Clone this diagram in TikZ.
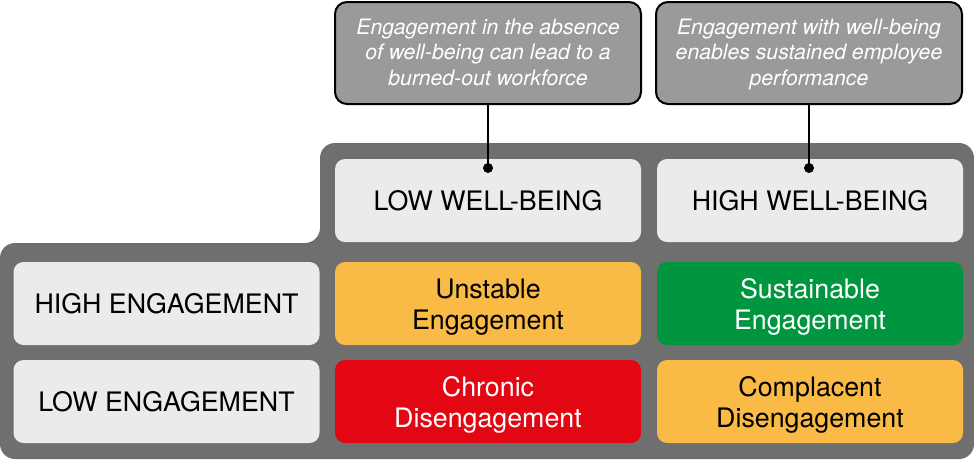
\documentclass[tikz,border=0pt]{standalone}
\usepackage{fontspec}
\setmainfont{TeX Gyre Heros}
\usepackage{xcolor}
\usepackage{tikz}
\usetikzlibrary{positioning}

\definecolor{panelgray}{HTML}{6F6F6F}
\definecolor{calloutgray}{HTML}{9A9A9A}
\definecolor{headgray}{HTML}{EBEBEB}
\definecolor{cellyellow}{HTML}{F9BB45}
\definecolor{cellgreen}{HTML}{009640}
\definecolor{cellred}{HTML}{E30613}

% struts that fix first-line height and last-line depth
\newcommand{\upst}{\rule{0pt}{27pt}}
\newcommand{\dnst}{\rule[-6.5pt]{0pt}{6.5pt}}
\newcommand{\cupst}{\rule{0pt}{18.9pt}}
\newcommand{\cdnst}{\rule[-5.5pt]{0pt}{5.5pt}}

\begin{document}
\begin{tikzpicture}[
				x = 1pt, y = -1pt,
				box/.style = {rounded corners = 10pt, minimum width = 306pt, minimum height = 83pt,
					inner sep = 0pt, align = center, font = \fontsize{26.8}{31}\selectfont},
				head/.style = {box, fill = headgray, text = black},
				callout/.style = {box, draw = black, line width = 2pt, fill = calloutgray, text = white,
					minimum height = 102pt, rounded corners = 12pt,
					font = \fontsize{21.2}{25.7}\selectfont\itshape},
				dot/.style = {circle, fill = black, inner sep = 0pt, minimum size = 10pt},
				conn/.style = {line width = 2.5pt}
			]

			\useasboundingbox (0,0) rectangle (974,459);

			% dark background panel
			\fill[panelgray, rounded corners = 15pt] (320,143) -- (974,143) -- (974,459) -- (0,459)
				-- (0,243) -- (320,243) -- cycle;

			% column and row headers
			\node[head] (lowwb) at (488,200.5) {\upst LOW WELL-BEING\dnst};
			\node[head] (highwb) at (810,200.5) {\upst HIGH WELL-BEING\dnst};
			\node[head] (higheng) at (166.5,303.5) {\upst HIGH ENGAGEMENT\dnst};
			\node[head] (loweng) at (166.5,401.5) {\upst LOW ENGAGEMENT\dnst};

			% cells
			\node[box, fill = cellyellow, text = black] (unstable) at (488,303.5) {\upst Unstable\\Engagement\dnst};
			\node[box, fill = cellgreen, text = white] (sustain) at (810,303.5) {\upst Sustainable\\Engagement\dnst};
			\node[box, fill = cellred, text = white] (chronic) at (488,401.5) {\upst Chronic\\Disengagement\dnst};
			\node[box, fill = cellyellow, text = black] (complac) at (810,401.5) {\upst Complacent\\Disengagement\dnst};

			% callouts
			\node[callout] (callL) at (488,53) {\cupst Engagement in the absence\\of well-being can lead to a\\burned-out workforce\cdnst};
			\node[callout] (callR) at (809,53) {\cupst Engagement with well-being\\enables sustained employee\\performance\cdnst};

			\node[dot] (dotL) at (488,168) {};
			\node[dot] (dotR) at (809,168) {};

			\draw[conn] (callL.south) -- (dotL.center);
			\draw[conn] (callR.south) -- (dotR.center);

			\end{tikzpicture}
\end{document}
